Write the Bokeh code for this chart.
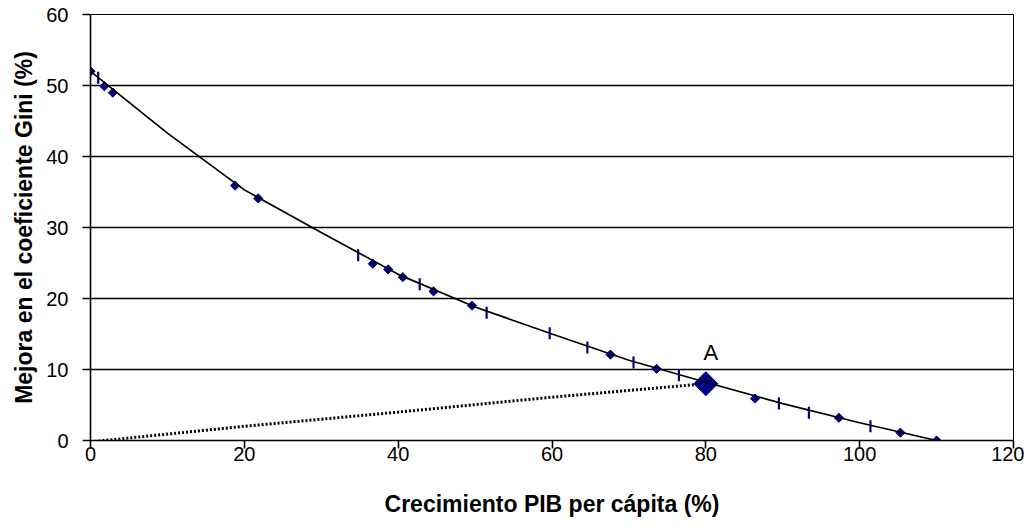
import math
from bokeh.plotting import figure
from bokeh.models import Range1d, FixedTicker
from bokeh.core.properties import value
from bokeh.embed import file_html
from bokeh.resources import INLINE

# Main series markers (diamonds)
diamond_x = [0, 1.8, 2.9, 18.8, 21.8, 36.7, 38.7, 40.6, 44.6, 49.6, 67.6, 73.6, 86.4, 97.3, 105.3, 110.0]
diamond_y = [52, 49.9, 49.0, 35.9, 34.1, 24.9, 24.1, 23.0, 21.0, 19.0, 12.1, 10.1, 5.9, 3.2, 1.1, 0.0]
# Main series markers (vertical dashes)
dash_x = [1.0, 34.8, 42.8, 51.5, 59.7, 64.6, 70.6, 76.5, 89.5, 93.4, 101.4]
dash_y = [51.1, 26.1, 22.0, 18.0, 15.1, 13.1, 11.0, 9.2, 5.2, 3.9, 2.0]
# Fitted curve through the main series
curve_x = [0, 10, 20, 30, 40, 50, 60, 70, 80, 90, 100, 110]
curve_y = [52.0, 43.3, 35.3, 29.3, 23.4, 18.8, 15.0, 11.3, 8.2, 5.2, 2.5, 0.0]
# Dotted line to point A
dot_x = [0, 20, 40, 60, 80]
dot_y = [-0.2, 2.0, 4.0, 6.1, 8.0]
# Point A
a_x = [80.0]
a_y = [8.0]
a_label = ["A"]

x_ticks = [0, 20, 40, 60, 80, 100, 120]
y_ticks = [0, 10, 20, 30, 40, 50, 60]

NAVY = "#000080"
FONT = "Liberation Sans"

p = figure(width=1024, height=519, output_backend="svg", toolbar_location=None,
           x_range=Range1d(0, 120), y_range=Range1d(0, 60),
           min_border_left=90, min_border_right=11, min_border_top=14, min_border_bottom=79)

p.background_fill_color = "white"
p.border_fill_color = "white"
p.outline_line_color = "black"
p.outline_line_width = 1
p.outline_line_alpha = 1

p.xgrid.visible = False
p.ygrid.grid_line_color = "black"
p.ygrid.grid_line_width = 1.3
p.ygrid.grid_line_alpha = 1
p.ygrid.ticker = FixedTicker(ticks=y_ticks)

p.xaxis.ticker = FixedTicker(ticks=x_ticks)
p.yaxis.ticker = FixedTicker(ticks=y_ticks)

for ax in (p.xaxis, p.yaxis):
    ax.axis_line_color = "black"
    ax.axis_line_width = 1.6
    ax.major_tick_line_color = "black"
    ax.major_tick_line_width = 1.6
    ax.major_tick_out = 8
    ax.major_tick_in = 0
    ax.minor_tick_line_color = None
    ax.major_label_text_font = FONT
    ax.major_label_text_font_size = "20px"
    ax.major_label_text_color = "black"
    ax.axis_label_text_font = FONT
    ax.axis_label_text_font_size = "23px"
    ax.axis_label_text_font_style = "bold"
    ax.axis_label_text_color = "black"

p.xaxis.axis_label = "Crecimiento PIB per cápita (%)"
p.yaxis.axis_label = "Mejora en el coeficiente Gini (%)"
p.xaxis.major_label_standoff = -2
p.yaxis.major_label_standoff = 14
p.xaxis.axis_label_standoff = 27
p.yaxis.axis_label_standoff = 6

# dotted line
p.line(dot_x, dot_y, line_color="black", line_width=3, line_dash="2 2")

# markers
p.scatter(diamond_x, diamond_y, marker="square", size=6.5, angle=math.pi / 4,
          fill_color=NAVY, line_color=NAVY)
p.scatter(dash_x, dash_y, marker="dash", size=12, angle=math.pi / 2, line_color=NAVY, line_width=2.2)
p.scatter(a_x, a_y, marker="square", size=17, angle=math.pi / 4, fill_color=NAVY, line_color=NAVY)

# curve
p.line(curve_x, curve_y, line_color="black", line_width=1.7)

# label A
p.text(a_x, a_y, text=a_label, x_offset=5, y_offset=-31, text_align="center",
       text_baseline="alphabetic", text_font=value(FONT), text_font_size="22px", text_color="black")

open("out.html", "w").write(file_html(p, INLINE))
